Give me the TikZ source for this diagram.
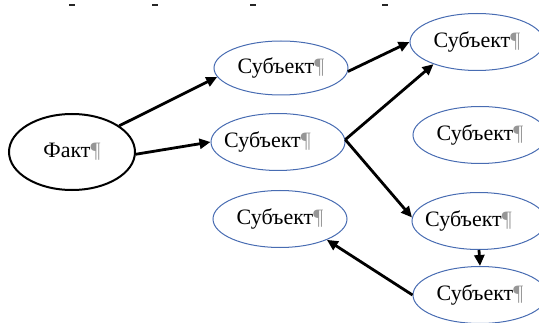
\documentclass[tikz,border=0pt]{standalone}
\usepackage{fontspec}
\setmainfont{Liberation Serif}
\usetikzlibrary{arrows.meta,shapes.geometric}
\definecolor{ellblue}{RGB}{72,108,178}
\definecolor{pilgray}{RGB}{150,150,150}
\newcommand{\pil}{\textcolor{pilgray}{¶}}
\newcommand{\leftshifted}[1]{\makebox[0pt][c]{\hspace*{-21pt}#1}}
\tikzset{
  subj/.style={ellipse, draw=ellblue, line width=1pt, minimum width=134pt, minimum height=57pt, inner sep=0pt, font=\fontsize{22}{26}\selectfont},
  fact/.style={ellipse, draw=black, line width=2pt, minimum width=126pt, minimum height=76pt, inner sep=0pt, font=\fontsize{22}{26}\selectfont},
  link/.style={draw=black, line width=2.8pt, -{Triangle[length=11pt,width=10pt]}},
  tick/.style={draw=black!85, line width=1.1pt}
}
\begin{document}
\begin{tikzpicture}[x=1pt,y=1pt]
\useasboundingbox (0,0) rectangle (539,322);
\clip (0,0) rectangle (539,322);
% ruler marks
\draw[tick] (69,317) -- (75,317);
\draw[tick] (152,317) -- (158,317);
\draw[tick] (250,317) -- (256,317);
\draw[tick] (382,317) -- (388,317);
% nodes
\node[fact] (fakt) at (72,170) {Факт\pil};
\node[subj, minimum height=54pt] (s1) at (281,254) {Субъект\pil};
\node[subj] (s2) at (278,180) {\leftshifted{Субъект\pil}};
\node[subj] (s3) at (280,103) {Субъект\pil};
\node[subj] (r1) at (477,280) {Субъект\pil};
\node[subj] (r2) at (480,187) {Субъект\pil};
\node[subj] (r3) at (479,101) {\leftshifted{Субъект\pil}};
\node[subj] (r4) at (480,27) {Субъект\pil};
% connectors
\draw[link] (fakt.29) -- (s1.188);
\draw[link] (fakt.-2) -- (s2.west);
\draw[link] (s1.-3) -- (r1.west);
\draw[link] (s2.2) -- (r1.207);
\draw[link] (s2.2) -- (r3.177);
\draw[link] (r3.south) -- (r4.north);
\draw[link] (r4.west) -- (s3.-24);
\end{tikzpicture}
\end{document}
